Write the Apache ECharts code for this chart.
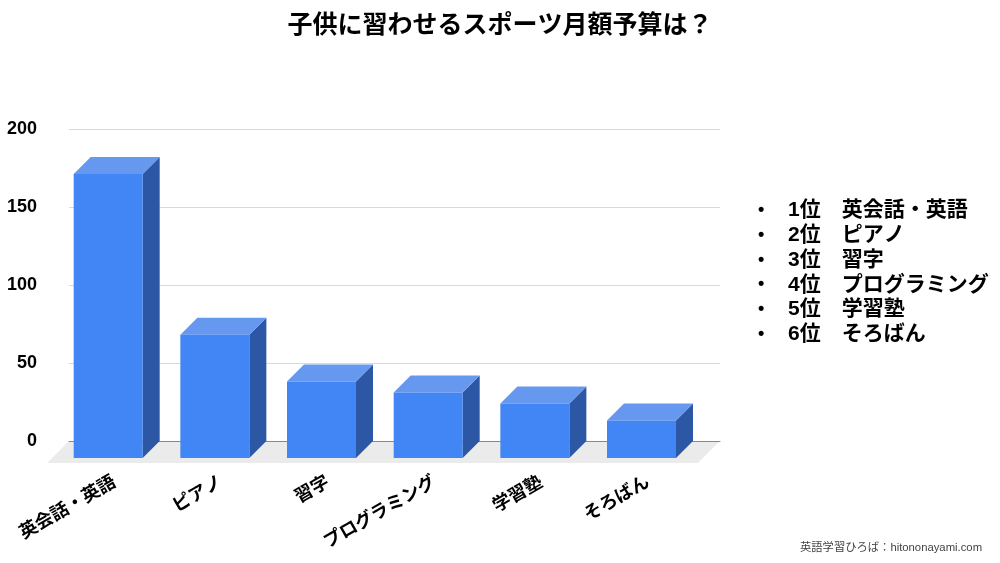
<!DOCTYPE html>
<html>
<head>
<meta charset="utf-8">
<script src="https://cdn.jsdelivr.net/npm/echarts@6/dist/echarts.min.js"></script>
<style>html,body{margin:0;padding:0;background:#fff}#main{width:1000px;height:563px}</style>
</head>
<body>
<div id="main"></div>
<script>
const categories = ['英会話・英語', 'ピアノ', '習字', 'プログラミング', '学習塾', 'そろばん'];
const values = [182, 79, 49, 42, 35, 24];
const yTicks = [0, 50, 100, 150, 200];
const titleText = '子供に習わせるスポーツ月額予算は？';
const sourceText = '英語学習ひろば：hitononayami.com';

const FONT = '"Liberation Sans", Arial, "Noto Sans CJK JP", sans-serif';
const D = 17;      // depth offset (px)
const BW = 69;     // bar front width (px)

const chart = echarts.init(document.getElementById('main'), null, {renderer: 'canvas'});

const legendGraphics = [];
categories.forEach((c, i) => {
  const y = 211 + i * 24.8;
  legendGraphics.push({
    type: 'text', left: 758, top: y - 10,
    style: {text: '•', font: 'bold 18px ' + FONT, fill: '#000'}
  });
  legendGraphics.push({
    type: 'text', left: 788, top: y - 11,
    style: {text: (i + 1) + '位　' + c, font: 'bold 21px ' + FONT, fill: '#000'}
  });
});

const option = {
  backgroundColor: '#fff',
  animation: false,
  title: {
    text: titleText, left: 'center', top: 9,
    textStyle: {fontFamily: FONT, fontSize: 25, fontWeight: 'bold', color: '#000'}
  },
  grid: [
    {left: 69, right: 280, top: 129, bottom: 122},
    {left: 61.35, right: 298.65, top: 129, bottom: 122}
  ],
  xAxis: [
    {gridIndex: 0, type: 'value', min: 0, max: 1, show: true,
     axisLine: {show: true, lineStyle: {color: '#888', width: 1}},
     axisTick: {show: false}, axisLabel: {show: false}, splitLine: {show: false}},
    {gridIndex: 1, type: 'category', data: categories,
     axisLine: {show: false}, axisTick: {show: false}, splitLine: {show: false},
     axisLabel: {rotate: 30, margin: 40, fontSize: 18, fontWeight: 'bold', color: '#000',
                 fontFamily: FONT, interval: 0}}
  ],
  yAxis: [
    {gridIndex: 0, type: 'value', min: yTicks[0], max: yTicks[yTicks.length - 1], interval: 50,
     axisLine: {show: false}, axisTick: {show: false},
     axisLabel: {margin: 32, fontSize: 18, fontWeight: 'bold', color: '#000', fontFamily: FONT},
     splitLine: {show: true, lineStyle: {color: '#d9d9d9', width: 1}}},
    {gridIndex: 1, type: 'value', min: 0, max: 200, show: false}
  ],
  graphic: [
    {type: 'polygon', z: -1,
     shape: {points: [[69, 441], [720, 441], [698, 463], [47, 463]]},
     style: {fill: '#ebebeb'}},
    ...legendGraphics,
    {type: 'text', left: 800, top: 542,
     style: {text: sourceText, font: '11.3px ' + FONT, fill: '#444'}}
  ],
  series: [{
    type: 'custom',
    xAxisIndex: 1, yAxisIndex: 1,
    clip: false,
    data: values.map((v, i) => [i, v]),
    renderItem: function (params, api) {
      const i = api.value(0), v = api.value(1);
      const pt = api.coord([i, v]);
      const p0 = api.coord([i, 0]);
      const xc = pt[0], yt = pt[1], yb = p0[1];
      const fl = xc - 41, fr = fl + BW;
      return {
        type: 'group',
        children: [
          {type: 'polygon', shape: {points: [[fr, yt + D], [fr + D, yt], [fr + D, yb], [fr, yb + D]]},
           style: {fill: '#2b57a5'}},
          {type: 'polygon', shape: {points: [[fl, yt + D], [fr, yt + D], [fr + D, yt], [fl + D, yt]]},
           style: {fill: '#6698f0'}},
          {type: 'rect', shape: {x: fl, y: yt + D, width: BW, height: yb - yt},
           style: {fill: '#4285f4'}}
        ]
      };
    }
  }]
};
chart.setOption(option);
</script>
</body>
</html>
